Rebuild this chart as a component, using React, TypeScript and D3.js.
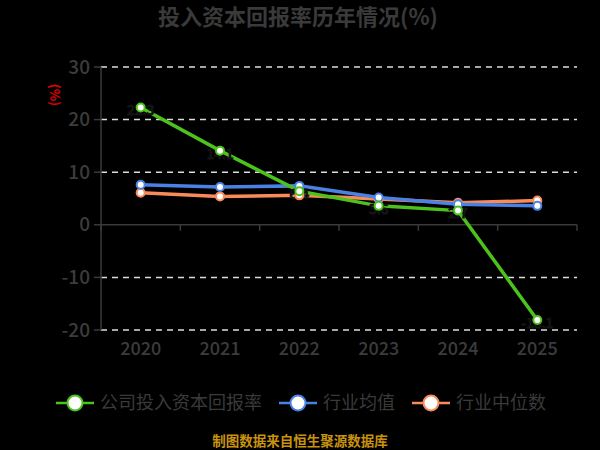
import { useEffect, useRef } from 'react';
import * as d3 from 'd3';

const years = ['2020', '2021', '2022', '2023', '2024', '2025'];
const companyRoic = [22.3, 14.1, 6.4, 3.6, 2.7, -18.1];
const industryAvg = [7.6, 7.2, 7.4, 5.2, 3.9, 3.6];
const industryMedian = [6.1, 5.4, 5.6, 4.9, 4.2, 4.6];
const yTicks = [-20, -10, 0, 10, 20, 30];
const seriesNames = ['公司投入资本回报率', '行业均值', '行业中位数'];

const FONT = '"Noto Sans CJK SC", "Noto Sans", sans-serif';

export default function App() {
  const ref = useRef<SVGSVGElement | null>(null);

  useEffect(() => {
    const svg = d3.select(ref.current);
    svg.selectAll('*').remove();

    const left = 101;
    const right = 577;
    const top = 67;
    const bottom = 330;

    const x = d3.scalePoint<string>().domain(years).range([left, right]).padding(0.5);
    const y = d3.scaleLinear().domain([-20, 30]).range([bottom, top]);

    svg.append('rect').attr('width', 600).attr('height', 450).attr('fill', '#000');

    // title
    svg
      .append('text')
      .attr('x', 298)
      .attr('y', 25)
      .attr('text-anchor', 'middle')
      .style('font-family', FONT)
      .style('font-size', '22px')
      .style('font-weight', 'bold')
      .style('fill', '#3a3a3a')
      .text('投入资本回报率历年情况(%)');

    // unit
    svg
      .append('text')
      .attr('transform', `translate(55,95) rotate(90)`)
      .attr('text-anchor', 'middle')
      .attr('dy', '0.35em')
      .style('font-family', FONT)
      .style('font-size', '13px')
      .style('font-weight', 'bold')
      .style('fill', '#e00000')
      .text('(%)');

    // grid
    svg
      .append('g')
      .selectAll('line')
      .data(yTicks.filter((t) => t !== 0))
      .enter()
      .append('line')
      .attr('x1', left)
      .attr('x2', right)
      .attr('y1', (d) => y(d))
      .attr('y2', (d) => y(d))
      .attr('stroke', '#dddddd')
      .attr('stroke-width', 1.5)
      .attr('stroke-dasharray', '6,5');

    // y axis
    svg
      .append('line')
      .attr('x1', left)
      .attr('x2', left)
      .attr('y1', top)
      .attr('y2', bottom)
      .attr('stroke', '#3a3a3a')
      .attr('stroke-width', 1.5);
    const yg = svg.append('g');
    yg.selectAll('line')
      .data(yTicks)
      .enter()
      .append('line')
      .attr('x1', left - 7)
      .attr('x2', left)
      .attr('y1', (d) => y(d))
      .attr('y2', (d) => y(d))
      .attr('stroke', '#3a3a3a')
      .attr('stroke-width', 1.5);
    yg.selectAll('text')
      .data(yTicks)
      .enter()
      .append('text')
      .attr('x', left - 11)
      .attr('y', (d) => y(d))
      .attr('dy', '0.35em')
      .attr('text-anchor', 'end')
      .style('font-family', FONT)
      .style('font-size', '19px')
      .style('font-weight', 500)
      .style('fill', '#3c3c3c')
      .text((d) => String(d));

    // x axis at zero
    svg
      .append('line')
      .attr('x1', left)
      .attr('x2', right)
      .attr('y1', y(0))
      .attr('y2', y(0))
      .attr('stroke', '#3a3a3a')
      .attr('stroke-width', 1.5);
    const step = x.step();
    const boundaries = years.map((yr) => (x(yr) as number) - step / 2).concat([right]);
    svg
      .append('g')
      .selectAll('line')
      .data(boundaries)
      .enter()
      .append('line')
      .attr('x1', (d) => d)
      .attr('x2', (d) => d)
      .attr('y1', y(0))
      .attr('y2', y(0) + 6)
      .attr('stroke', '#3a3a3a')
      .attr('stroke-width', 1.5);
    svg
      .append('g')
      .selectAll('text')
      .data(years)
      .enter()
      .append('text')
      .attr('x', (d) => x(d) as number)
      .attr('y', 349)
      .attr('dy', '0.35em')
      .attr('text-anchor', 'middle')
      .style('font-family', FONT)
      .style('font-size', '18px')
      .style('font-weight', 500)
      .style('fill', '#3c3c3c')
      .text((d) => d);

    const series = [
      { values: industryMedian, color: '#f98b5a' },
      { values: industryAvg, color: '#4a82e4' },
      { values: companyRoic, color: '#4cc21c' },
    ];

    const line = d3
      .line<number>()
      .x((_d, i) => x(years[i]) as number)
      .y((d) => y(d));

    series.forEach((s) => {
      svg
        .append('path')
        .datum(s.values)
        .attr('d', line)
        .attr('fill', 'none')
        .attr('stroke', s.color)
        .attr('stroke-width', 3.5);
    });

    // labels of company series (dark on dark)
    svg
      .append('g')
      .selectAll('text')
      .data(companyRoic)
      .enter()
      .append('text')
      .attr('x', (_d, i) => x(years[i]) as number)
      .attr('y', (d) => y(d) + 3)
      .attr('dy', '0.35em')
      .attr('text-anchor', 'middle')
      .style('font-family', FONT)
      .style('font-size', '14px')
      .style('fill', '#000')
      .style('stroke', '#141414')
      .style('stroke-width', 1.2)
      .text((d) => d.toFixed(1));

    series.forEach((s) => {
      svg
        .append('g')
        .selectAll('circle')
        .data(s.values)
        .enter()
        .append('circle')
        .attr('cx', (_d, i) => x(years[i]) as number)
        .attr('cy', (d) => y(d))
        .attr('r', 4)
        .attr('fill', '#fff')
        .attr('stroke', s.color)
        .attr('stroke-width', 2);
    });

    // legend
    const legendItems = [
      { name: seriesNames[0], color: '#4cc21c', x: 56 },
      { name: seriesNames[1], color: '#4a82e4', x: 279 },
      { name: seriesNames[2], color: '#f98b5a', x: 412 },
    ];
    const lg = svg.append('g');
    legendItems.forEach((it) => {
      lg.append('line')
        .attr('x1', it.x)
        .attr('x2', it.x + 38)
        .attr('y1', 403)
        .attr('y2', 403)
        .attr('stroke', it.color)
        .attr('stroke-width', 2.5);
      lg.append('circle')
        .attr('cx', it.x + 19)
        .attr('cy', 403)
        .attr('r', 7.5)
        .attr('fill', '#fff')
        .attr('stroke', it.color)
        .attr('stroke-width', 2);
      lg.append('text')
        .attr('x', it.x + 44)
        .attr('y', 403)
        .attr('dy', '0.35em')
        .style('font-family', FONT)
        .style('font-size', '18px')
        .style('fill', '#3a3a3a')
        .text(it.name);
    });

    // source
    svg
      .append('text')
      .attr('x', 300)
      .attr('y', 441)
      .attr('dy', '0.35em')
      .attr('text-anchor', 'middle')
      .style('font-family', FONT)
      .style('font-size', '13.5px')
      .style('font-weight', 'bold')
      .style('fill', '#c8930f')
      .text('制图数据来自恒生聚源数据库');
  }, []);

  return (
    <svg
      ref={ref}
      width={600}
      height={450}
      style={{ position: 'absolute', left: 0, top: 0, display: 'block' }}
    />
  );
}
